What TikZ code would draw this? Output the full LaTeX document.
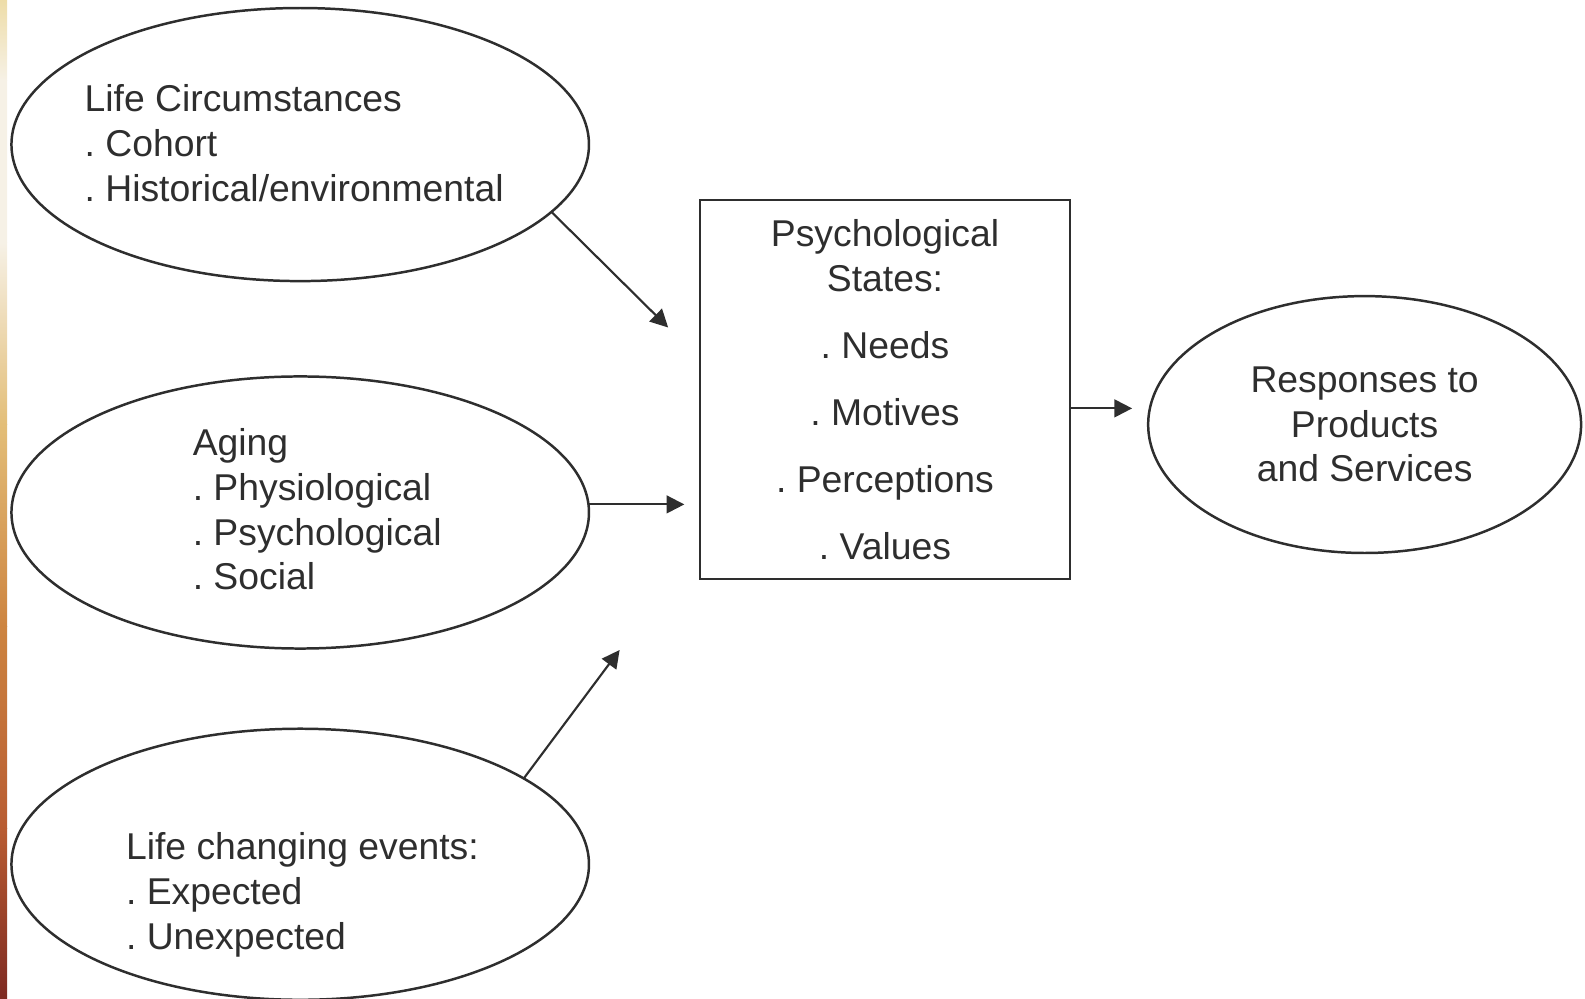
\documentclass[tikz,border=0pt]{standalone}
\usepackage{fontspec}
\setmainfont{Liberation Sans}
\usepackage{tikz}
\usetikzlibrary{shapes.geometric,arrows.meta}

\definecolor{ink}{HTML}{2E2E2E}
\definecolor{barA}{HTML}{EEDDA8}
\definecolor{barB}{HTML}{F6F1E6}
\definecolor{barC}{HTML}{E3BE78}
\definecolor{barD}{HTML}{CD8440}
\definecolor{barE}{HTML}{B85C32}
\definecolor{barF}{HTML}{7E2A22}

\begin{document}
\frenchspacing
\begin{tikzpicture}[x=0.01cm,y=-0.01cm,
   txt/.style={font=\fontsize{10.5pt}{12.6pt}\selectfont,text=ink,inner sep=0pt},
   oval/.style={ellipse,draw=ink,line width=0.7pt,inner sep=0pt,outer sep=0pt},
   stbox/.style={rectangle,draw=ink,line width=0.6pt,minimum width=3.65cm,
    minimum height=3.75cm,inner sep=0pt,align=center},
   arr/.style={-{Triangle[length=5pt,width=5pt]},draw=ink,line width=0.6pt}
    ]
  \useasboundingbox (0,0) rectangle (1568,988);

  % -- side bar
  \shade[top color=barA,bottom color=barB] (0,0) rectangle (7,80);
  \shade[top color=barB,bottom color=barB] (0,80) rectangle (7,240);
  \shade[top color=barB,bottom color=barC] (0,240) rectangle (7,420);
  \shade[top color=barC,bottom color=barD] (0,420) rectangle (7,620);
  \shade[top color=barD,bottom color=barE] (0,620) rectangle (7,820);
  \shade[top color=barE,bottom color=barF] (0,820) rectangle (7,988);

  % -- ellipses
  \node[oval,minimum width=5.71cm,minimum height=2.70cm] at (297,143) (life) {};
  \node[oval,minimum width=5.71cm,minimum height=2.69cm] at (297,507) (aging) {};
  \node[oval,minimum width=5.71cm,minimum height=2.68cm] at (297,855) (events) {};
  \node[oval,minimum width=4.28cm,minimum height=2.54cm,txt,align=center] at (1350,420) (resp)
    {Responses to\\Products\\and Services};

  % -- texts
  \node[txt,align=left,anchor=west] at (83,141.5) (lifetxt)
    {Life Circumstances\\. Cohort\\. Historical/environmental};
  \node[txt,align=left,anchor=west] at (190,504) (agingtxt)
    {Aging\\. Physiological\\. Psychological\\. Social};
  \node[txt,align=left,anchor=west] at (124,885.5) (eventstxt)
    {Life changing events:\\. Expected\\. Unexpected};

  % -- box
  \node[stbox,txt,draw=ink,minimum width=3.65cm,minimum height=3.75cm] at (875.5,385.5) (states)
    {Psychological\\States:\\[6.2pt]. Needs\\[6.2pt]. Motives\\[6.2pt]. Perceptions\\[6.2pt]. Values};

  % -- arrows
  \coordinate (e1) at (661,324);
  \coordinate (e2) at (677,499);
  \coordinate (e3) at (613,643);
  \coordinate (e4) at (1120,404);
  \draw[arr] (life.-15) -- (e1);
  \draw[arr] (aging.east |- e2) -- (e2);
  \draw[arr] (events.21) -- (e3);
  \draw[arr] (states.east |- e4) -- (e4);
\end{tikzpicture}
\end{document}
